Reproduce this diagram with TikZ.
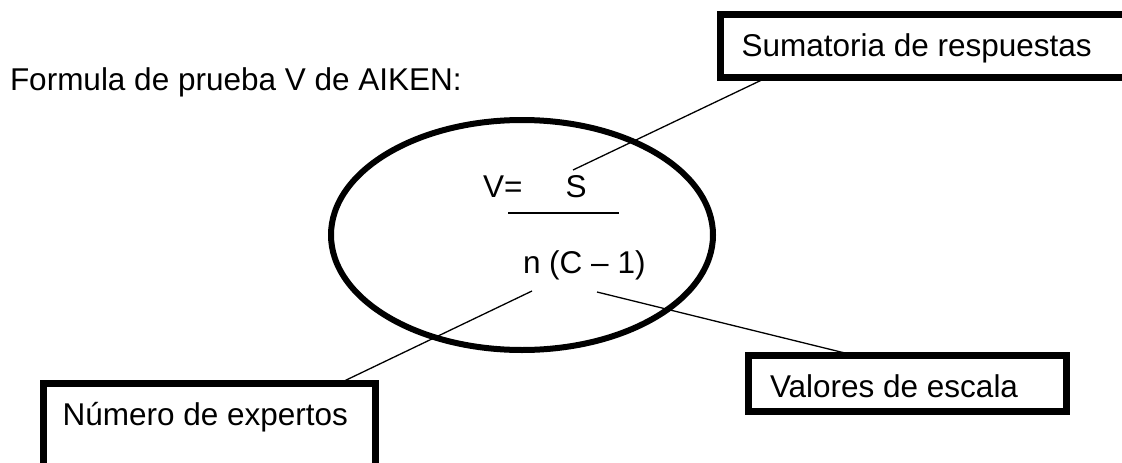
\documentclass[tikz,border=0pt]{standalone}
\usepackage{fontspec}
\setmainfont{Liberation Sans}
\usetikzlibrary{shapes.geometric}
\begin{document}
\begin{tikzpicture}[x=1pt,y=1pt,
  every node/.style={inner sep=0pt, outer sep=0pt, font=\fontsize{31.5}{38}\selectfont},
  labelbox/.style={draw, line width=7pt, anchor=north west},
  txt/.style={anchor=base west},
  thin/.style={line width=1.3pt}]
\useasboundingbox (0,0) rectangle (1122,-463);
\clip (0,0) rectangle (1122,-463);
% title
\node[txt] (title) at (10,-90) {Formula de prueba V de AIKEN:};
% boxes
\node[labelbox, minimum width=410pt, minimum height=62.5pt] (sumbox) at (720,-14.5) {};
\node[txt] (sumtxt) at (741.5,-56) {Sumatoria de respuestas};
\node[labelbox, minimum width=332pt, minimum height=90pt] (numbox) at (43,-383) {};
\node[txt] (numtxt) at (62.6,-425) {Número de expertos};
\node[labelbox, minimum width=318pt, minimum height=56pt] (valbox) at (748,-355) {};
\node[txt] (valtxt) at (770,-397) {Valores de escala};
% ellipse
\node[ellipse, draw, line width=6pt, minimum width=382pt, minimum height=230pt] (ell) at (522,-235) {};
% formula
\node[txt] (V) at (483,-197) {V=};
\node[txt] (S) at (565.5,-197) {S};
\coordinate (fracL) at (508,-213);
\coordinate (fracR) at (619,-213);
\draw[thin] (fracL) -- (fracR);
\node[txt] (den) at (523,-273) {n (C – 1)};
% connectors
\coordinate (sTop) at (573,-170);
\coordinate (sumAt) at (768,-77);
\draw[thin] (sumAt) -- (sTop);
\coordinate (nBot) at (532,-291);
\coordinate (numAt) at (340,-383);
\draw[thin] (nBot) -- (numAt);
\coordinate (cBot) at (597,-292);
\coordinate (valAt) at (853,-355);
\draw[thin] (cBot) -- (valAt);
\end{tikzpicture}
\end{document}
